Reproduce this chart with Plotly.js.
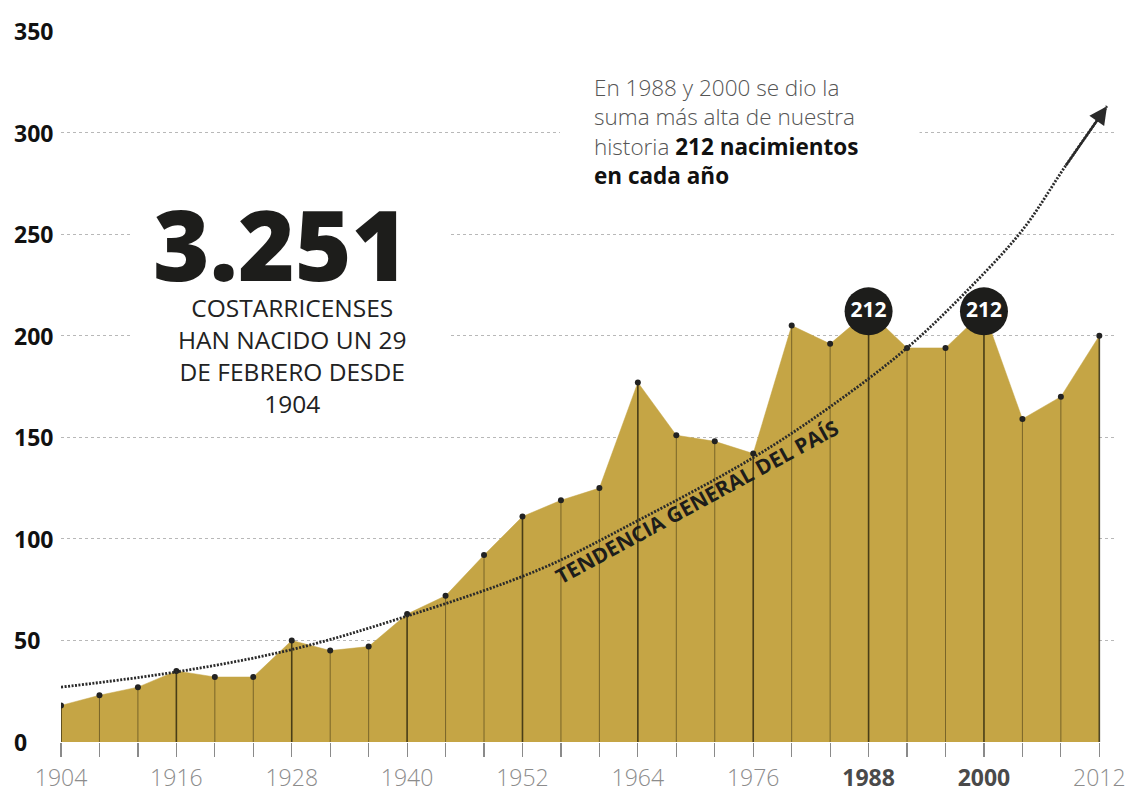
<!DOCTYPE html>
<html>
<head>
<meta charset="utf-8">
<script src="https://cdn.plot.ly/plotly-3.0.1.min.js"></script>
<style>
  html, body { margin: 0; padding: 0; background: #ffffff; }
  #chart { width: 1129px; height: 793px; }
</style>
</head>
<body>
<div id="chart"></div>
<script>
// Leap years and births on 29 February (Costa Rica)
const years = [1904, 1908, 1912, 1916, 1920, 1924, 1928, 1932, 1936, 1940, 1944, 1948, 1952, 1956,
               1960, 1964, 1968, 1972, 1976, 1980, 1984, 1988, 1992, 1996, 2000, 2004, 2008, 2012];
const births = [18, 23, 27, 35, 32, 32, 50, 45, 47, 63, 72, 92, 111, 119,
                125, 177, 151, 148, 142, 205, 196, 212, 194, 194, 212, 159, 170, 200];

// Highlighted peaks
const peakYears = [1988, 2000];
const peakValues = [212, 212];
const peakLabels = ['212', '212'];

// General trend
const trendX = [1904, 1916, 1928, 1940, 1953.8, 1964, 1976, 1984, 1992, 1998, 2004, 2008.4, 2012.8];
const trendY = [27, 34.5, 45.5, 62, 85, 109, 140, 165, 194, 221, 252, 283, 313];

// Axis ticks
const yTickVals = [0, 50, 100, 150, 200, 250, 300, 350];
const xLabelYears = [1904, 1916, 1928, 1940, 1952, 1964, 1976, 1988, 2000, 2012];
const xBoldYears = [1988, 2000];

// Texts
const bigNumber = '3.251';
const bigNumberLines = ['COSTARRICENSES', 'HAN NACIDO UN 29', 'DE FEBRERO DESDE', '1904'];
const noteLines = [
  'En 1988 y 2000 se dio la',
  'suma más alta de nuestra',
  'historia <span style="color:#111"><b>212 nacimientos</b></span>',
  '<span style="color:#111"><b>en cada año</b></span>'
];
const trendText = 'TENDENCIA GENERAL DEL PAÍS';

const FONT = '"Open Sans", "DejaVu Sans", sans-serif';
const GOLD = '#C5A545';

// Build helper arrays for the vertical drop lines
const thinX = [], thinY = [], thickX = [], thickY = [];
years.forEach((yr, i) => {
  const isLabel = xLabelYears.indexOf(yr) >= 0;
  const tx = isLabel ? thickX : thinX;
  const ty = isLabel ? thickY : thinY;
  tx.push(yr, yr, null);
  ty.push(0, births[i], null);
});

const xTickText = years.map(yr => {
  if (xBoldYears.indexOf(yr) >= 0) return '<span style="color:#4a4a4a"><b>' + yr + '</b></span>';
  if (xLabelYears.indexOf(yr) >= 0) return String(yr);
  return '';
});

const traces = [
  {
    type: 'scatter', mode: 'lines', x: years, y: births,
    fill: 'tozeroy', fillcolor: GOLD,
    line: { color: GOLD, width: 0.5 }, hoverinfo: 'skip', showlegend: false
  },
  {
    type: 'scatter', mode: 'lines', x: thinX, y: thinY,
    line: { color: 'rgba(70,58,22,0.6)', width: 1 }, hoverinfo: 'skip', showlegend: false
  },
  {
    type: 'scatter', mode: 'lines', x: thickX, y: thickY,
    line: { color: 'rgba(50,42,15,0.85)', width: 1.6 }, hoverinfo: 'skip', showlegend: false
  },
  {
    type: 'scatter', mode: 'markers', x: years, y: births,
    marker: { color: '#222', size: 6 }, showlegend: false
  },
  {
    type: 'scatter', mode: 'markers+text', x: peakYears, y: peakValues,
    text: peakLabels, textposition: 'middle center',
    textfont: { family: FONT, size: 21, color: '#ffffff', weight: 'bold' },
    marker: { color: '#1d1d1b', size: 48 }, showlegend: false, cliponaxis: false
  },
  {
    type: 'scatter', mode: 'lines', x: trendX, y: trendY,
    line: { color: '#2a2a2a', width: 2.8, dash: '2px,1.5px', shape: 'spline', smoothing: 1 },
    hoverinfo: 'skip', showlegend: false, cliponaxis: false
  }
];

const annotations = [];
yTickVals.forEach(v => {
  annotations.push({
    xref: 'paper', yref: 'y', x: -0.0465, y: v, xanchor: 'left', yanchor: 'middle',
    text: '<b>' + v + '</b>', showarrow: false,
    font: { family: FONT, size: 23, color: '#111', weight: 800 }
  });
});
annotations.push({
  xref: 'x', yref: 'y', x: 1926.8, y: 245.5, xanchor: 'center', yanchor: 'middle',
  text: bigNumber, showarrow: false,
  font: { family: FONT, size: 97, color: '#1d1d1b', weight: 800 }
});
annotations.push({
  xref: 'x', yref: 'y', x: 1928.0, y: 190.5, xanchor: 'center', yanchor: 'middle',
  text: bigNumberLines.join('<br>'), showarrow: false, align: 'center',
  font: { family: FONT, size: 24.5, color: '#222' }
});
annotations.push({
  xref: 'x', yref: 'y', x: 1959.2, y: 300.7, xanchor: 'left', yanchor: 'middle',
  text: noteLines.join('<br>'), showarrow: false, align: 'left',
  font: { family: FONT, size: 22.5, color: '#555', weight: 300 }
});
annotations.push({
  xref: 'x', yref: 'y', x: 1970.1, y: 118, xanchor: 'center', yanchor: 'middle',
  text: '<b>' + trendText + '</b>', showarrow: false, textangle: -28.5,
  font: { family: FONT, size: 21, color: '#1d1d1b', weight: 800 }
});
// Arrow head at the end of the trend curve
annotations.push({
  xref: 'x', yref: 'y', axref: 'x', ayref: 'y',
  x: trendX[trendX.length - 1], y: trendY[trendY.length - 1],
  ax: trendX[trendX.length - 2], ay: trendY[trendY.length - 2],
  text: '', showarrow: true, arrowhead: 2, arrowsize: 1.5, arrowwidth: 2.4,
  arrowcolor: '#2a2a2a', standoff: 0
});

const shapes = [
  // gaps in the gridlines behind the texts
  { type: 'rect', xref: 'x', yref: 'y', x0: 1911.4, x1: 1944.5, y0: 188, y1: 262,
    fillcolor: '#ffffff', line: { width: 0 }, layer: 'above' },
  { type: 'rect', xref: 'x', yref: 'y', x0: 1955.9, x1: 1993.3, y0: 292, y1: 310,
    fillcolor: '#ffffff', line: { width: 0 }, layer: 'above' }
];

const layout = {
  width: 1129, height: 793,
  margin: { l: 61, r: 14, t: 31, b: 51 },
  paper_bgcolor: '#ffffff', plot_bgcolor: '#ffffff',
  showlegend: false,
  font: { family: FONT },
  xaxis: {
    range: [1904, 2013.63], tickmode: 'array', tickvals: years, ticktext: xTickText,
    ticks: 'outside', ticklen: 14, tickwidth: 1.2, tickcolor: '#8a8a8a',
    ticklabelstandoff: 1,
    tickfont: { family: FONT, size: 23, color: '#8c8c8c', weight: 300 },
    showgrid: false, zeroline: false, showline: false, fixedrange: true
  },
  yaxis: {
    range: [0, 350], tickmode: 'array', tickvals: yTickVals, showticklabels: false,
    showgrid: true, gridcolor: '#b8b8b8', griddash: 'dot', gridwidth: 1,
    zeroline: false, showline: false, ticks: '', fixedrange: true
  },
  annotations: annotations,
  shapes: shapes
};

Plotly.newPlot('chart', traces, layout, { displayModeBar: false, staticPlot: true });
</script>
</body>
</html>
